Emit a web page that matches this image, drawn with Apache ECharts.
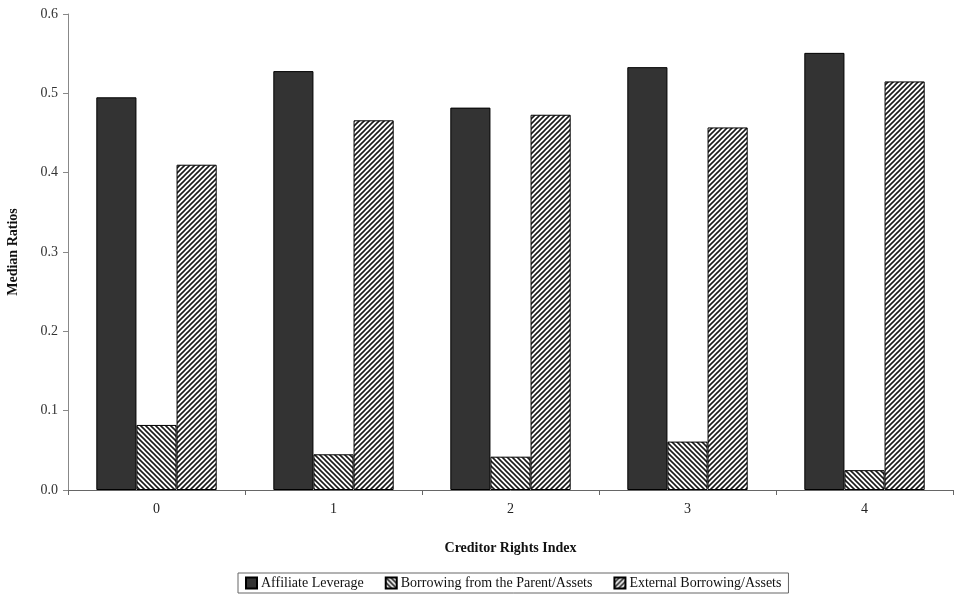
<!DOCTYPE html>
<html>
<head>
<meta charset="utf-8">
<script src="https://cdn.jsdelivr.net/npm/echarts@6/dist/echarts.min.js"></script>
<style>html,body{margin:0;padding:0;background:#fff;}#c{width:964px;height:598px;}</style>
</head>
<body>
<div id="c"></div>
<script>
const categories = ['0', '1', '2', '3', '4'];
const seriesNames = ['Affiliate Leverage', 'Borrowing from the Parent/Assets', 'External Borrowing/Assets'];
const affiliateLeverage = [0.495, 0.528, 0.482, 0.533, 0.551];
const borrowingParent = [0.082, 0.045, 0.042, 0.061, 0.025];
const externalBorrowing = [0.410, 0.466, 0.473, 0.457, 0.515];
const yTicks = [0, 0.1, 0.2, 0.3, 0.4, 0.5, 0.6];

function makePattern(dir) {
  const s = 5;
  const c = document.createElement('canvas');
  c.width = s; c.height = s;
  const ctx = c.getContext('2d');
  ctx.fillStyle = '#fff';
  ctx.fillRect(0, 0, s, s);
  ctx.strokeStyle = '#1a1a1a';
  ctx.lineWidth = 1.6;
  ctx.beginPath();
  if (dir === 'back') {
    ctx.moveTo(-1, -1); ctx.lineTo(s + 1, s + 1);
    ctx.moveTo(-1, s - 1); ctx.lineTo(1, s + 1);
    ctx.moveTo(s - 1, -1); ctx.lineTo(s + 1, 1);
  } else {
    ctx.moveTo(-1, s + 1); ctx.lineTo(s + 1, -1);
    ctx.moveTo(-1, 1); ctx.lineTo(1, -1);
    ctx.moveTo(s - 1, s + 1); ctx.lineTo(s + 1, s - 1);
  }
  ctx.stroke();
  return c;
}

const font = 'Liberation Serif';
const chart = echarts.init(document.getElementById('c'), null, {renderer: 'canvas'});
chart.setOption({
  animation: false,
  backgroundColor: '#fff',
  grid: {left: 68, right: 11, top: 14, bottom: 108, containLabel: false, outerBoundsMode: 'none'},
  legend: {
    bottom: 5, left: 238,
    data: seriesNames,
    itemWidth: 11, itemHeight: 11, itemGap: 21,
    borderColor: '#666', borderWidth: 1, padding: [3, 7],
    textStyle: {fontFamily: font, fontSize: 14, color: '#111', padding: [0, 0, 0, -1]},
    icon: 'rect'
  },
  xAxis: {
    type: 'category',
    data: categories,
    name: 'Creditor Rights Index',
    nameLocation: 'middle', nameGap: 51,
    nameTextStyle: {fontFamily: font, fontSize: 14, fontWeight: 'bold', color: '#111'},
    axisLine: {lineStyle: {color: '#666', width: 1}},
    axisTick: {show: true, length: 5, lineStyle: {color: '#666'}},
    axisLabel: {fontFamily: font, fontSize: 14, color: '#222', margin: 12},
    splitLine: {show: false}
  },
  yAxis: {
    type: 'value',
    min: 0, max: 0.6, interval: 0.1,
    name: 'Median Ratios',
    nameLocation: 'middle', nameGap: 48, nameRotate: 90,
    nameTextStyle: {fontFamily: font, fontSize: 14, fontWeight: 'bold', color: '#111'},
    axisLine: {show: true, lineStyle: {color: '#888', width: 1}},
    axisTick: {show: true, length: 5, lineStyle: {color: '#888'}},
    axisLabel: {fontFamily: font, fontSize: 14, color: '#333', margin: 10,
      formatter: v => yTicks.includes(Math.round(v * 10) / 10) ? v.toFixed(1) : ''},
    splitLine: {show: false}
  },
  series: [
    {name: seriesNames[0], type: 'bar', data: affiliateLeverage, barGap: '0%', barCategoryGap: '32%',
     itemStyle: {color: '#333', borderColor: '#000', borderWidth: 1}},
    {name: seriesNames[1], type: 'bar', data: borrowingParent,
     itemStyle: {color: {image: makePattern('back'), repeat: 'repeat'}, borderColor: '#000', borderWidth: 1}},
    {name: seriesNames[2], type: 'bar', data: externalBorrowing,
     itemStyle: {color: {image: makePattern('fwd'), repeat: 'repeat'}, borderColor: '#000', borderWidth: 1}}
  ]
});
</script>
</body>
</html>
